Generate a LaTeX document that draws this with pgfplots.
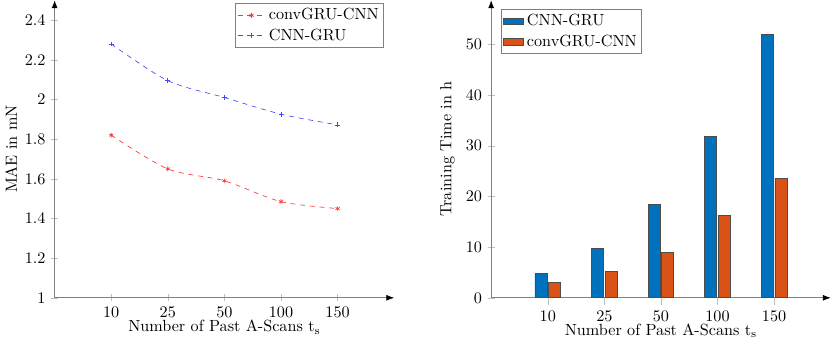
\documentclass[border=0pt]{standalone}
\usepackage{pgfplots}
\pgfplotsset{compat=1.18}
\usetikzlibrary{arrows.meta}
\definecolor{barblue}{RGB}{0,114,189}
\definecolor{barorange}{RGB}{217,83,25}
\definecolor{lineblue}{RGB}{70,70,255}
\definecolor{linered}{RGB}{255,50,50}
\begin{document}
\begin{tikzpicture}
\pgfplotsset{
  common/.style={
    scale only axis,
    width=210pt, height=184pt,
    axis lines=left,
    axis line style={gray, -{Latex[black]}},
    xmin=0, xmax=6,
    xtick={1,2,3,4,5},
    xticklabels={10,25,50,100,150},
    tick style={gray!50},
    xlabel={Number of Past A-Scans $\mathrm{t_s}$},
    xlabel style={yshift=5.5pt},
    legend cell align=left,
  },
}
\begin{axis}[common,
  ymin=1, ymax=2.5,
  ytick={1,1.2,...,2.4},
  ylabel={MAE in mN},
  ylabel style={yshift=-2pt},
  legend style={at={(0.97,0.99)},anchor=north east,draw=gray,inner sep=1pt},
]
\addplot[color=linered, dashed, smooth, mark=asterisk, mark size=1.5pt, mark options={solid,linered}]
  coordinates {(1,1.82) (2,1.65) (3,1.59) (4,1.485) (5,1.45)};
\addplot[color=lineblue, dashed, smooth, mark=+, mark size=1.5pt, mark options={solid,lineblue}]
  coordinates {(1,2.28) (2,2.095) (3,2.01) (4,1.926) (5,1.872)};
\legend{convGRU-CNN,CNN-GRU}
\end{axis}
\begin{axis}[common, at={(270pt,0)},
  ybar=1pt, bar width=7.4pt,
  ymin=0, ymax=58.7,
  ytick={0,10,...,50},
  ylabel={Training Time in h},
  legend style={at={(0.03,0.97)},anchor=north west,draw=gray,inner sep=1pt},
  legend image code/.code={\draw[#1] (0cm,-0.07cm) rectangle (0.43cm,0.07cm);},
]
\addplot[fill=barblue, draw=black!70] coordinates {(1,4.8) (2,9.7) (3,18.4) (4,31.8) (5,52.0)};
\addplot[fill=barorange, draw=black!70] coordinates {(1,3.05) (2,5.24) (3,8.9) (4,16.3) (5,23.6)};
\legend{CNN-GRU,convGRU-CNN}
\end{axis}
\end{tikzpicture}
\end{document}
